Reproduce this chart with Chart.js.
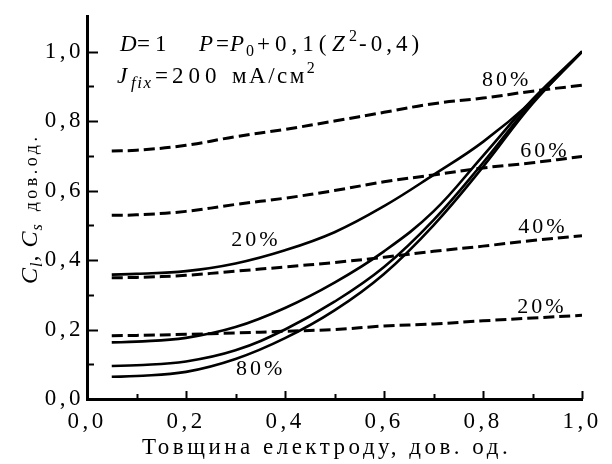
<!DOCTYPE html>
<html>
<head>
<meta charset="utf-8">
<script src="https://cdn.jsdelivr.net/npm/chart.js@4/dist/chart.umd.min.js"></script>
<style>
  body { margin: 0; background: #fff; }
  canvas { display: block; }
</style>
</head>
<body>
<canvas id="chart" width="612" height="464"></canvas>
<script>
// electrode thickness, rel. units
const xs = [0.05, 0.1, 0.2, 0.3, 0.4, 0.5, 0.6, 0.7, 0.8, 0.9, 1.0];

// Cl (solid)
const cl20 = [0.358, 0.36, 0.368, 0.39, 0.428, 0.48, 0.555, 0.645, 0.74, 0.858, 1.0];
const cl40 = [0.163, 0.165, 0.176, 0.207, 0.262, 0.335, 0.425, 0.54, 0.7, 0.862, 1.0];
const cl60 = [0.095, 0.097, 0.108, 0.14, 0.2, 0.28, 0.38, 0.515, 0.68, 0.855, 1.0];
const cl80 = [0.064, 0.066, 0.078, 0.115, 0.175, 0.255, 0.36, 0.5, 0.668, 0.85, 1.0];

// Cs (dashed)
const cs20 = [0.182, 0.183, 0.186, 0.19, 0.195, 0.2, 0.21, 0.216, 0.225, 0.233, 0.241];
const cs40 = [0.349, 0.35, 0.356, 0.368, 0.38, 0.393, 0.408, 0.425, 0.44, 0.456, 0.47];
const cs60 = [0.529, 0.53, 0.54, 0.56, 0.578, 0.6, 0.625, 0.645, 0.665, 0.68, 0.698];
const cs80 = [0.714, 0.716, 0.73, 0.755, 0.776, 0.8, 0.825, 0.85, 0.866, 0.886, 0.903];

const xTicks = [0, 0.2, 0.4, 0.6, 0.8, 1.0];
const yTicks = [0, 0.2, 0.4, 0.6, 0.8, 1.0];

// curve labels, in data units
const curveLabels = [
  { text: '80%', x: 0.848, y: 0.917 },
  { text: '60%', x: 0.925, y: 0.712 },
  { text: '40%', x: 0.921, y: 0.494 },
  { text: '20%', x: 0.919, y: 0.264 },
  { text: '20%', x: 0.341, y: 0.457 },
  { text: '80%', x: 0.351, y: 0.087 }
];

const FONT = '"Liberation Serif", "Times New Roman", serif';

function pts(ys) {
  return xs.map((x, i) => ({ x: x, y: ys[i] }));
}

function solid(ys) {
  return { data: pts(ys), borderColor: '#000', borderWidth: 2.6, pointRadius: 0,
           fill: false, tension: 0.4 };
}
function dashed(ys) {
  return { data: pts(ys), borderColor: '#000', borderWidth: 3, borderDash: [11, 5],
           pointRadius: 0, fill: false, tension: 0.4 };
}

function fmt(v) {
  return v.toFixed(1).replace('.', ',');
}

// draw text runs; a run with x starts there, otherwise after the previous one
function runs(ctx, x, y, list) {
  list.forEach(r => {
    if (r.x != null) x = r.x;
    ctx.letterSpacing = (r.ls || 0) + 'px';
    ctx.font = (r.it ? 'italic ' : '') + (r.sz || 23) + 'px ' + FONT;
    ctx.fillText(r.t, x, y + (r.dy || 0));
    x += ctx.measureText(r.t).width;
  });
  return x;
}

const spacing = {
  id: 'spacing',
  beforeLayout(chart) { chart.ctx.letterSpacing = '3.5px'; },
  beforeDraw(chart) { chart.ctx.letterSpacing = '3.5px'; }
};

const extras = {
  id: 'extras',
  afterDraw(chart) {
    const ctx = chart.ctx;
    const xs_ = chart.scales.x, ys_ = chart.scales.y;
    const area = chart.chartArea;
    ctx.save();
    ctx.strokeStyle = '#000';
    ctx.fillStyle = '#000';
    ctx.lineWidth = 2;

    // inward ticks
    for (let i = 0; i <= 10; i++) {
      const v = i / 10;
      const major = i % 2 === 0;
      const px = Math.round(xs_.getPixelForValue(v)) + 0.5;
      ctx.beginPath();
      ctx.moveTo(px, area.bottom);
      ctx.lineTo(px, area.bottom - (major ? 8 : 5));
      ctx.stroke();
      const py = Math.round(ys_.getPixelForValue(v)) + 0.5;
      ctx.beginPath();
      ctx.moveTo(area.left, py);
      ctx.lineTo(area.left + (major ? 11 : 7), py);
      ctx.stroke();
    }

    // curve labels
    ctx.letterSpacing = '3px';
    ctx.font = '22px ' + FONT;
    ctx.textAlign = 'center';
    ctx.textBaseline = 'middle';
    curveLabels.forEach(l => {
      ctx.fillText(l.text, xs_.getPixelForValue(l.x), ys_.getPixelForValue(l.y));
    });

    // annotation
    ctx.textAlign = 'left';
    ctx.textBaseline = 'alphabetic';
    runs(ctx, 120, 51, [
      { t: 'D', it: 1, x: 120 }, { t: '=1', x: 137, ls: 5 },
      { t: 'P', it: 1, x: 199 }, { t: '=', x: 216 }, { t: 'P', it: 1, x: 230 },
      { t: '0', sz: 16, dy: 5, x: 246 }, { t: '+0,1(', x: 257, ls: 5 },
      { t: 'Z', it: 1, x: 332 },
      { t: '2', sz: 16, dy: -10, x: 349 }, { t: '-0,4)', x: 359, ls: 4 }
    ]);
    runs(ctx, 117, 83, [
      { t: 'J', it: 1, x: 117 }, { t: 'fix', it: 1, sz: 17, dy: 5, x: 131, ls: 1.5 },
      { t: '=', x: 155 }, { t: '200', x: 172, ls: 5 },
      { t: 'мА/см', x: 232, ls: 2.5 }, { t: '2', sz: 16, dy: -10 }
    ]);

    // x axis title
    ctx.letterSpacing = '3.5px';
    ctx.font = '23px ' + FONT;
    ctx.textBaseline = 'middle';
    ctx.fillText('Товщина електроду, дов. од.', 142, 448);

    // y axis title
    ctx.translate(37, 284);
    ctx.rotate(-Math.PI / 2);
    ctx.textBaseline = 'alphabetic';
    const end = runs(ctx, 0, 0, [
      { t: 'C', it: 1, sz: 24, ls: 1 }, { t: 'l', it: 1, sz: 16, dy: 5, ls: 1 },
      { t: ', ', sz: 24, ls: 1 }, { t: 'C', it: 1, sz: 24, ls: 1 },
      { t: 's', it: 1, sz: 16, dy: 5, ls: 1 }
    ]);
    runs(ctx, 0, 0, [{ t: 'дов.од.', sz: 18, ls: 3.5, x: end + 12 }]);
    ctx.restore();
  }
};

new Chart(document.getElementById('chart'), {
  type: 'line',
  data: {
    datasets: [
      dashed(cs80), dashed(cs60), dashed(cs40), dashed(cs20),
      solid(cl20), solid(cl40), solid(cl60), solid(cl80)
    ]
  },
  options: {
    responsive: false,
    devicePixelRatio: 1,
    animation: false,
    layout: { padding: { top: 12, right: 30, left: 0, bottom: 0 } },
    plugins: { legend: { display: false }, tooltip: { enabled: false } },
    scales: {
      x: {
        type: 'linear', min: 0, max: 1,
        grid: { display: false, drawTicks: false },
        border: { display: true, color: '#000', width: 3 },
        afterBuildTicks: s => { s.ticks = xTicks.map(v => ({ value: v })); },
        afterFit: s => { s.height = 65; },
        ticks: { color: '#000', padding: 9, maxRotation: 0, autoSkip: false,
                 font: { family: FONT, size: 23 }, callback: v => fmt(v) }
      },
      y: {
        type: 'linear', min: 0, max: 1.1,
        grid: { display: false, drawTicks: false },
        border: { display: true, color: '#000', width: 3 },
        afterBuildTicks: s => { s.ticks = yTicks.map(v => ({ value: v })); },
        afterFit: s => { s.width = 87; },
        ticks: { color: '#000', padding: 3, autoSkip: false,
                 font: { family: FONT, size: 23 }, callback: v => fmt(v) }
      }
    }
  },
  plugins: [spacing, extras]
});
</script>
</body>
</html>
